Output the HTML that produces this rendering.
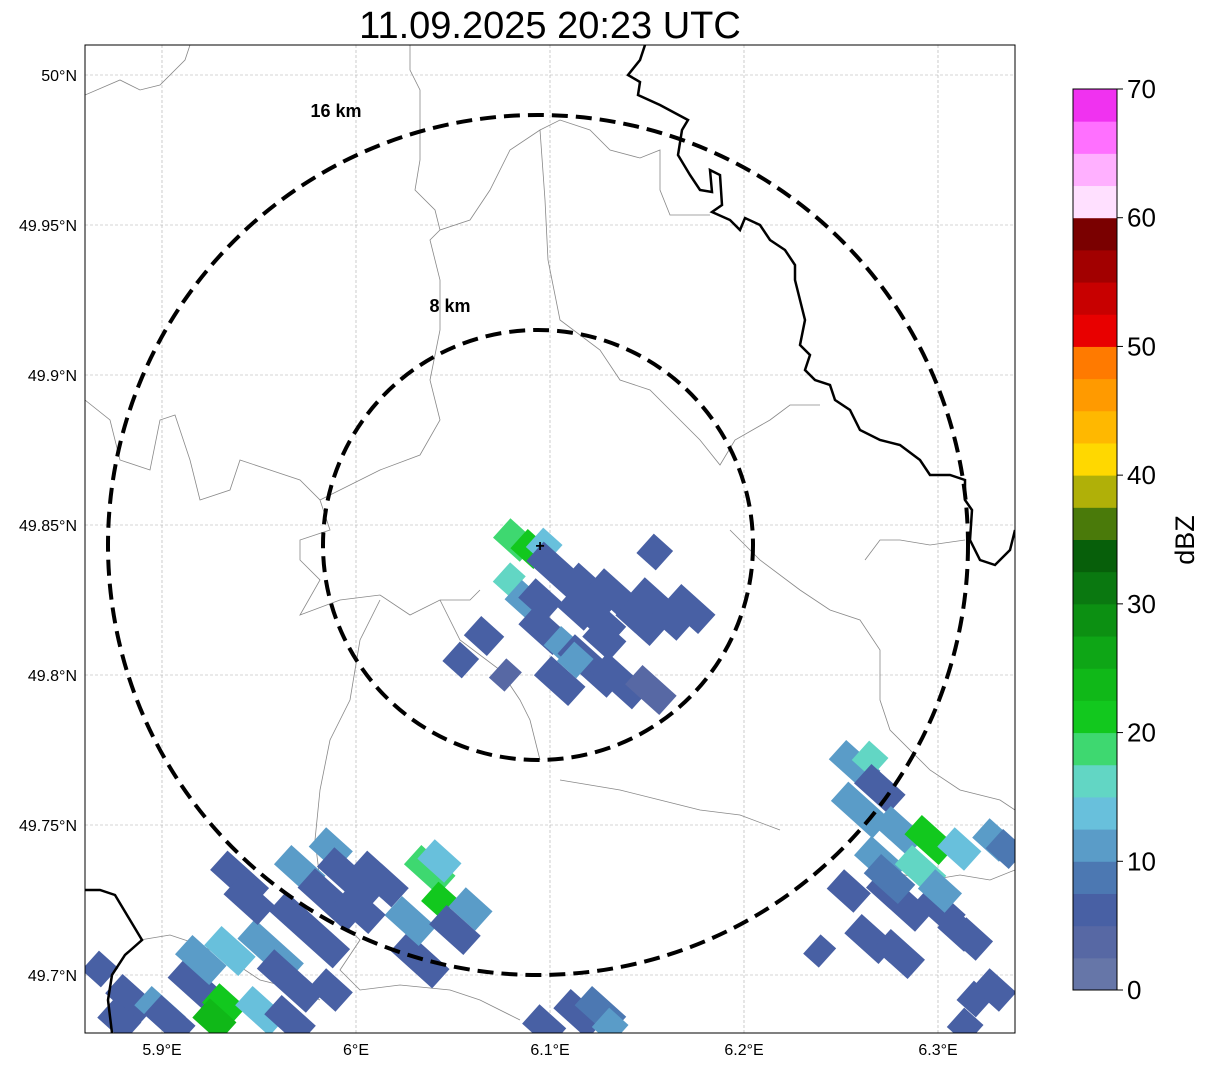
<!DOCTYPE html>
<html><head><meta charset="utf-8">
<style>
body{margin:0;background:#fff;font-family:"Liberation Sans",sans-serif;}
svg{display:block}
</style></head>
<body>
<svg id="chart" width="1207" height="1069" viewBox="0 0 1207 1069" xmlns="http://www.w3.org/2000/svg">
<text x="550" y="38" font-size="38" text-anchor="middle" font-family="Liberation Sans, sans-serif">11.09.2025 20:23 UTC</text>
<defs><clipPath id="mapclip"><rect x="85" y="45" width="930" height="988"/></clipPath></defs>
<g id="map" clip-path="url(#mapclip)">
<g id="grid"></g>
<g fill="none" stroke="#888" stroke-width="0.8">
<path d="M85,95 L120,80 L140,90 L160,85 L185,60 L190,45"/>
<path d="M85,400 L110,420 L120,460 L150,470 L160,420 L175,415 L190,460 L200,500 L230,490 L240,460 L270,470 L300,480 L320,500 L330,530 L300,540 L300,560 L320,580 L300,615 L340,600 L380,595 L410,615 L440,600 L470,600 L480,590"/>
<path d="M320,500 L380,470 L420,455 L440,420 L430,380 L440,330 L440,280 L430,240 L440,230 L470,220 L490,190 L510,150 L540,130 L545,200 L548,260 L560,320 L600,350 L620,380 L650,390 L670,410 L700,440 L720,465 L735,440 L770,420 L790,405 L820,405"/>
<path d="M410,45 L410,70 L420,90 L420,160 L415,190 L435,210 L440,230"/>
<path d="M540,130 L560,120 L590,130 L610,150 L640,158 L660,150 L660,190 L670,215 L710,215"/>
<path d="M440,600 L460,640 L500,670 L520,700 L530,720 L540,760"/>
<path d="M380,600 L360,640 L350,700 L330,740 L320,790 L315,840 L320,880 L340,920 L360,940 L340,970 L360,990 L400,985 L450,990 L480,1000 L520,1020"/>
<path d="M730,530 L760,560 L800,590 L830,610 L860,620 L880,650 L880,700 L890,730 L930,770 L960,790 L1000,800 L1015,810"/>
<path d="M865,560 L880,540 L900,540 L930,545 L965,540"/>
<path d="M140,940 L170,935 L200,945 L230,960 L260,980 L300,990 L320,1000"/>
<path d="M880,870 L930,880 L960,875 L990,880 L1015,870"/>
<path d="M560,780 L620,790 L660,800 L700,810 L740,815 L780,830"/>
</g>
<g id="cells"></g>
<g fill="none" stroke="#000" stroke-width="2.5">
<path d="M645,45 L640,60 L628,75 L640,82 L638,95 L660,105 L688,120 L682,130 L678,155 L690,175 L700,190 L712,192 L710,170 L720,175 L722,205 L712,212 L730,220 L740,230 L745,218 L760,225 L770,240 L785,250 L795,265 L795,280 L800,300 L805,320 L800,345 L810,355 L805,370 L815,380 L830,385 L835,400 L850,410 L860,430 L880,440 L900,445 L920,460 L930,475 L950,475 L965,480 L965,500 L972,510 L970,540 L980,560 L995,565 L1010,550 L1015,530"/>
<path d="M85,890 L100,890 L115,895 L130,920 L142,940 L125,955 L112,975 L108,1000 L112,1033"/>
</g>
<circle cx="538" cy="545" r="430" fill="none" stroke="#000" stroke-width="4" stroke-dasharray="16,8"/>
<circle cx="538" cy="545" r="215" fill="none" stroke="#000" stroke-width="4" stroke-dasharray="16,8"/>
<text x="336" y="117" font-size="18" font-weight="bold" text-anchor="middle">16 km</text>
<text x="450" y="312" font-size="18" font-weight="bold" text-anchor="middle">8 km</text>
<text x="540" y="551" font-size="16" font-weight="bold" text-anchor="middle">+</text>
</g>
<rect x="85" y="45" width="930" height="988" fill="none" stroke="#000" stroke-width="1"/>
<g id="axes" font-size="16"></g>
<g id="cbar"></g>
<text transform="translate(1194,540) rotate(-90)" font-size="27" text-anchor="middle">dBZ</text>
</svg>
<script>
const lonTicks=[5.9,6.0,6.1,6.2,6.3];
const lonLabels=["5.9°E","6°E","6.1°E","6.2°E","6.3°E"];
const latTicks=[50.0,49.95,49.9,49.85,49.8,49.75,49.7];
const latLabels=["50°N","49.95°N","49.9°N","49.85°N","49.8°N","49.75°N","49.7°N"];
const cbTicks=[0,10,20,30,40,50,60,70];
const cbColors=["#6676a8","#5768a4","#4860a4","#4c78b2","#5a9cc8","#68c0dc","#62d6c4","#3ed870","#12c81e","#10b818","#0ea616","#0c9012","#0a7810","#075f0a","#4a7a0a","#b0b008","#ffd800","#ffb800","#ff9a00","#ff7a00","#e80000","#c80000","#a20000","#7a0000","#ffe0ff","#ffb0ff","#ff70ff","#f032f0"];
const cellLon=[6.082,6.090,6.097,6.079,6.087,6.103,6.121,6.136,6.157,6.172,6.154,6.066,6.054,6.097,6.110,6.121,6.136,6.105,6.152,6.077,6.128,6.115,
6.257,6.265,6.270,6.260,6.280,6.296,6.311,6.329,6.270,6.291,6.280,6.301,6.265,6.311,6.239,6.319,6.329,6.314,6.280,
5.940,5.971,5.987,5.997,6.012,6.038,6.043,6.059,5.976,5.956,5.935,5.920,5.932,5.927,5.951,5.966,6.033,6.028,5.884,5.868,5.899,
6.115,6.126,6.097,6.131,
5.945,5.987,6.002,5.920,5.904,5.966,5.987,6.051,6.043,5.878,
6.275,6.301,6.254,6.317,6.335,
6.126,6.147,6.095,6.113];
const cellLat=[49.845,49.842,49.843,49.832,49.825,49.835,49.828,49.825,49.822,49.822,49.841,49.813,49.805,49.815,49.808,49.803,49.798,49.798,49.795,49.800,49.812,49.822,
49.770,49.772,49.762,49.755,49.748,49.745,49.742,49.745,49.738,49.735,49.725,49.722,49.712,49.715,49.708,49.692,49.695,49.683,49.707,
49.732,49.735,49.742,49.732,49.732,49.735,49.725,49.722,49.715,49.708,49.708,49.695,49.690,49.685,49.688,49.698,49.705,49.718,49.692,49.702,49.688,
49.687,49.688,49.683,49.683,
49.725,49.725,49.722,49.705,49.685,49.685,49.695,49.715,49.738,49.685,
49.732,49.728,49.728,49.712,49.742,
49.818,49.818,49.825,49.805];
const cellDbz=[18,22,14,17,12,5,5,6,5,6,5,5,5,6,10,5,5,5,4,4,7,5,
12,17,5,10,12,21,13,12,12,15,7,5,5,5,5,5,6,5,6,
6,12,10,6,7,19,21,12,5,12,13,6,20,23,13,5,5,12,6,5,10,
5,8,5,12,
7,6,5,12,6,6,5,7,13,5,
8,10,6,6,8,
6,5,6,11];
const cellLen=[30,25,20,15,25,50,50,60,60,40,20,25,20,40,40,60,50,40,40,15,30,30,
40,20,40,50,40,40,30,30,40,40,60,40,40,30,15,20,30,20,40,
50,40,30,60,50,40,20,30,80,60,40,60,30,30,40,60,50,40,40,20,40,
40,40,30,20,
40,60,40,40,40,40,30,40,30,30,
40,30,30,30,25,
40,40,30,20];

const NS="http://www.w3.org/2000/svg";
const X0=85,X1=1015,Y0=45,Y1=1033;
function xs(lon){return 162+(lon-5.9)*1940;}
function ys(lat){return 525-(lat-49.85)*3000;}
function mk(tag,attrs,parent){const e=document.createElementNS(NS,tag);for(const k in attrs)e.setAttribute(k,attrs[k]);parent.appendChild(e);return e;}
function col(v){let i=Math.floor(v/2.5);i=Math.max(0,Math.min(cbColors.length-1,i));return cbColors[i];}

const grid=document.getElementById('grid'),axes=document.getElementById('axes');
lonTicks.forEach((t,i)=>{
  const l=mk('line',{x1:xs(t),x2:xs(t),y1:Y0,y2:Y1,stroke:'#aaa','stroke-width':0.6,'stroke-dasharray':'3,2'},grid);
  
  
  const tx=mk('text',{x:xs(t),y:1055,'text-anchor':'middle'},axes);tx.textContent=lonLabels[i];
  
  
});
latTicks.forEach((t,i)=>{
  const l=mk('line',{x1:X0,x2:X1,y1:ys(t),y2:ys(t),stroke:'#aaa','stroke-width':0.6,'stroke-dasharray':'3,2'},grid);
  
  
  const tx=mk('text',{x:77,y:ys(t)+6,'text-anchor':'end'},axes);tx.textContent=latLabels[i];
  
  
});

const cells=document.getElementById('cells');
for(let i=0;i<cellLon.length;i++){
  const cx=xs(cellLon[i]),cy=ys(cellLat[i]),L=cellLen[i]+6,W=26;
  const r=mk('rect',{x:cx-L/2,y:cy-W/2,width:L,height:W,fill:col(cellDbz[i]),transform:`rotate(42 ${cx} ${cy})`},cells);
  
  
}

const cb=document.getElementById('cbar');
const CB0=990,CB1=89,n=cbColors.length,h=(CB0-CB1)/n;
cbColors.forEach((c,i)=>{
  const r=mk('rect',{x:1073,y:CB0-(i+1)*h,width:44,height:h+0.5,fill:c},cb);
  
  
});
mk('rect',{x:1073,y:CB1,width:44,height:CB0-CB1,fill:'none',stroke:'#000','stroke-width':1},cb);
cbTicks.forEach(t=>{
  const y=CB0-(t/70)*(CB0-CB1);
  mk('line',{x1:1117,x2:1123,y1:y,y2:y,stroke:'#000'},cb);
  const tx=mk('text',{x:1127,y:y+9,'font-size':26},cb);tx.textContent=t;
  
  
});
</script>
</body></html>
